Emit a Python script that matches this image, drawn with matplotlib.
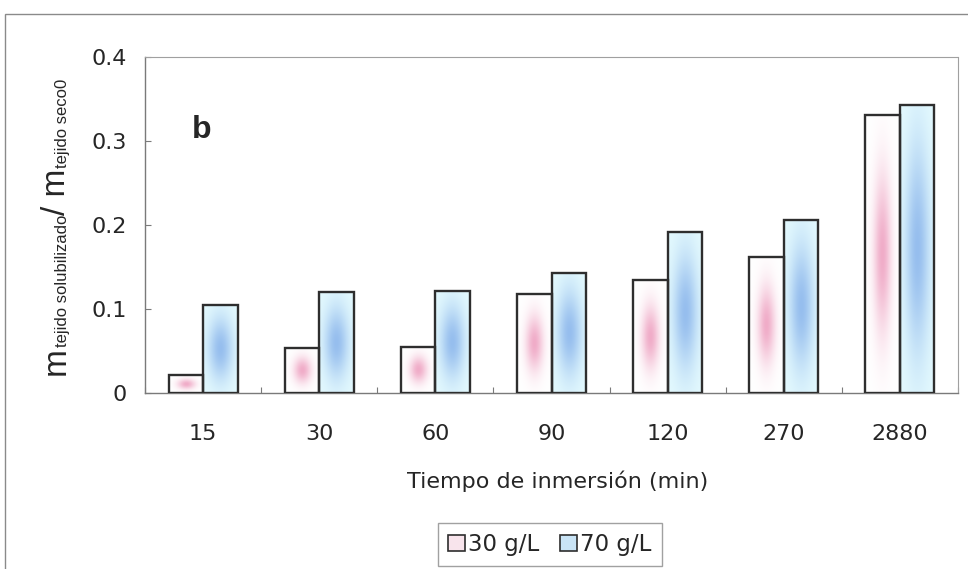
import numpy as np
import matplotlib
matplotlib.use("Agg")
import matplotlib.pyplot as plt
from matplotlib.patches import Rectangle

# Soluble fraction of tissue vs. immersion time, for two concentrations
categories = ["15", "30", "60", "90", "120", "270", "2880"]
conc_30 = [0.021, 0.054, 0.055, 0.118, 0.134, 0.162, 0.331]
conc_70 = [0.105, 0.120, 0.121, 0.143, 0.192, 0.206, 0.343]
series_labels = ["30 g/L", "70 g/L"]
y_ticks = [0, 0.1, 0.2, 0.3, 0.4]
y_tick_labels = ["0", "0.1", "0.2", "0.3", "0.4"]

plt.rcParams["font.family"] = ["DejaVu Sans"]
LABEL_FONT = ["Liberation Sans", "DejaVu Sans"]
TEXT = "#262626"
W, H = 968, 569

fig = plt.figure(figsize=(W / 100, H / 100), dpi=100)
fig.patch.set_facecolor("white")

# outer chart frame
fig.add_artist(Rectangle((5 / W, -0.1), 1.2, (H - 14) / H + 0.1,
                         transform=fig.transFigure, fill=False,
                         edgecolor="#8a8a8a", lw=1.0))

ax = fig.add_axes([145 / W, (H - 393) / H, 813 / W, 336 / H])


def gradient_image(base, center, sx, sy, nx=60, ny=240):
    u = np.linspace(-1, 1, nx)
    v = np.linspace(-1, 1, ny)
    U, V = np.meshgrid(u, v)
    w = np.exp(-(U / sx) ** 2) * np.exp(-(V / sy) ** 2)
    base = np.array(base) / 255.0
    center = np.array(center) / 255.0
    return base * (1 - w)[..., None] + center * w[..., None]


pink_img = gradient_image((255, 255, 255), (240, 172, 200), 0.5, 0.55)
blue_img = gradient_image((228, 250, 254), (150, 190, 238), 0.7, 0.7)

x = np.arange(len(categories))
bw = 0.297
bars_30 = ax.bar(x - bw / 2, conc_30, bw, facecolor="none",
                 edgecolor="#2e2e2e", lw=1.7, zorder=3)
bars_70 = ax.bar(x + bw / 2, conc_70, bw, facecolor="none",
                 edgecolor="#2e2e2e", lw=1.7, zorder=3)

for bars, img in ((bars_30, pink_img), (bars_70, blue_img)):
    for p in bars:
        x0, w, h = p.get_x(), p.get_width(), p.get_height()
        ax.imshow(img, extent=(x0, x0 + w, 0, h), aspect="auto",
                  origin="lower", interpolation="bilinear", zorder=2)

ax.set_xlim(-0.5, len(categories) - 0.5)
ax.set_ylim(0, 0.4)

# axes styling
for side in ("top", "right"):
    ax.spines[side].set_color("#a0a0a0")
    ax.spines[side].set_linewidth(0.8)
    ax.spines[side].set_linestyle((0, (1, 1)))
for side in ("left", "bottom"):
    ax.spines[side].set_color("#7a7a7a")
    ax.spines[side].set_linewidth(1.0)

ax.set_yticks(y_ticks)
ax.set_yticklabels(y_tick_labels)
ax.tick_params(axis="y", direction="in", length=4, width=0.8, color="#7a7a7a",
               labelsize=16, labelcolor=TEXT, pad=13)

ax.set_xticks(np.arange(len(categories) + 1) - 0.5)
ax.set_xticklabels([])
ax.set_xticks(x, minor=True)
ax.set_xticklabels(categories, minor=True)
ax.tick_params(axis="x", which="major", direction="in", length=4, width=0.8,
               color="#7a7a7a")
ax.tick_params(axis="x", which="minor", length=0, labelsize=16,
               labelcolor=TEXT, pad=22)

ax.set_xlabel("Tiempo de inmersión (min)", fontsize=16, color=TEXT)
ax.xaxis.set_label_coords(0.508, (393 - 481) / 336)
ax.xaxis.label.set_va("center")

ax.text(0.070, 0.783, "b", transform=ax.transAxes, fontsize=23,
        fontweight="bold", color=TEXT, ha="center", va="center",
        family=LABEL_FONT)

# y label with subscripted quantities, drawn piecewise
pieces = [("m", 24, 0), ("tejido solubilizado", 12, 2),
          ("/ m", 24, 0), ("tejido seco0", 12, 2)]
renderer = fig.canvas.get_renderer()
made = []
for s, size, drop in pieces:
    t = fig.text(0, 0, s, fontsize=size, rotation=90, rotation_mode="anchor",
                 ha="left", va="baseline", color=TEXT, family=LABEL_FONT)
    made.append((t, drop, t.get_window_extent(renderer).height))
total = sum(m[2] for m in made)
ypos = (H - 227) - total / 2
for t, drop, length in made:
    t.set_position(((65 + drop) / W, ypos / H))
    ypos += length

# legend
handles = [Rectangle((0, 0), 1, 1, facecolor="#f8e4ec", edgecolor="#2e2e2e", lw=1.2),
           Rectangle((0, 0), 1, 1, facecolor="#c9e4f6", edgecolor="#2e2e2e", lw=1.2)]
leg = fig.legend(handles, series_labels, loc="center",
                 bbox_to_anchor=(550 / W, 1 - 544.5 / H), ncol=2,
                 frameon=True, fancybox=False, edgecolor="#8a8a8a",
                 fontsize=16.5, handlelength=0.72, handleheight=0.72,
                 handletextpad=0.15, columnspacing=0.9, borderpad=0.45,
                 borderaxespad=0)
leg.get_frame().set_linewidth(1.0)
for txt in leg.get_texts():
    txt.set_color(TEXT)

fig.savefig("out.png", dpi=100, facecolor="white")
